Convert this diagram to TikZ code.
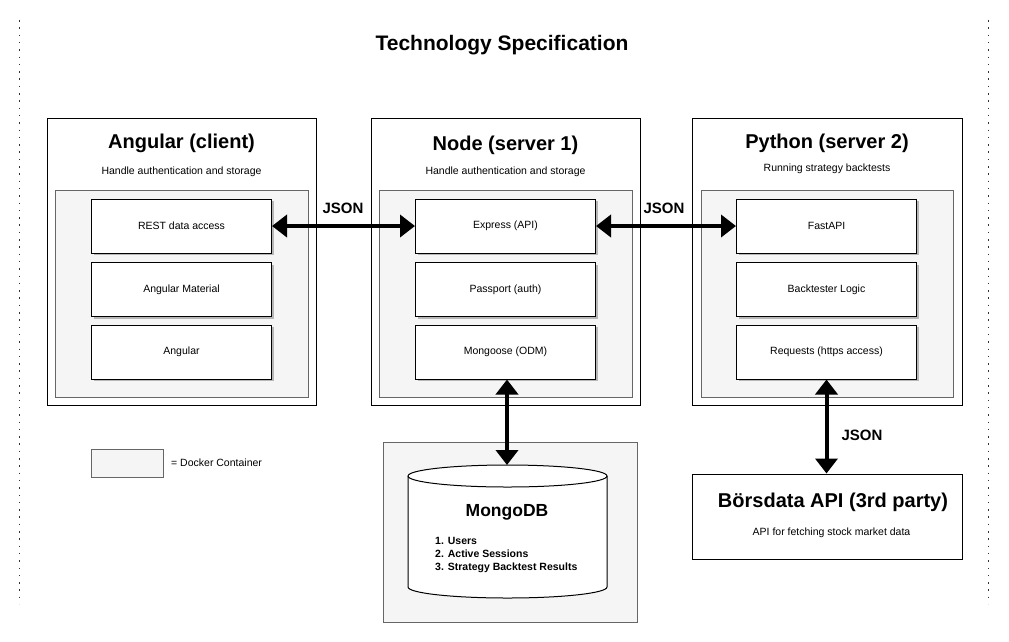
\documentclass[tikz,border=0pt]{standalone}
\usepackage{fontspec}
\setmainfont{Liberation Sans}
\usetikzlibrary{arrows.meta,shadows}
\tikzset{
    OB/.style ={rectangle, draw, line width=1pt, fill=white, inner sep=0pt, minimum width=269pt, minimum height=287pt},
    DC/.style ={rectangle, draw=black!60, line width=1pt, fill=black!4, inner sep=0pt},
    LB/.style ={rectangle, draw, line width=1pt, fill=white, inner sep=0pt, minimum width=180pt, minimum height=54pt,
                font=\fontsize{10.5}{12}\selectfont, drop shadow={shadow xshift=2pt, shadow yshift=-2pt, fill=black, opacity=0.25}},
    TT/.style ={font=\fontsize{20}{24}\selectfont\bfseries},
    ST/.style ={font=\fontsize{10.5}{12}\selectfont},
    JS/.style ={font=\fontsize{15}{18}\selectfont\bfseries},
    AR/.style ={{Triangle[length=15pt,width=22pt]}-{Triangle[length=15pt,width=22pt]}, line width=4pt},
    DL/.style ={line width=1.5pt, dash pattern=on 1.5pt off 5.8pt, black!80}}

\begin{document}
\begin{tikzpicture}[x=1pt,y=-1pt]
        \useasboundingbox (0,0) rectangle (1009,641);
        \draw[DL] (19.5,20) -- (19.5,604);
        \draw[DL] (988.5,20) -- (988.5,604);
        \node[font=\fontsize{21}{25}\selectfont\bfseries] (title) at (502,45) {Technology Specification};
        \node[OB] (ang) at (181.5,261.5) {};
        \node[OB] (nod) at (505.5,261.5) {};
        \node[OB, minimum width=270pt] (pyt) at (827,261.5) {};
        \node[TT] (angT) at (181.5,143) {Angular (client)};
        \node[ST] (angS) at (181.5,171.5) {Handle authentication and storage};
        \node[TT] (nodT) at (505.5,145) {Node (server 1)};
        \node[ST] (nodS) at (505.5,171.5) {Handle authentication and storage};
        \node[TT] (pytT) at (827,143) {Python (server 2)};
        \node[ST] (pytS) at (827,169) {Running strategy backtests};
        \node[DC, minimum width=253pt, minimum height=207pt] (angD) at (181.5,293.5) {};
        \node[DC, minimum width=253pt, minimum height=207pt] (nodD) at (505.5,293.5) {};
        \node[DC, minimum width=252pt, minimum height=207pt] (pytD) at (827,293.5) {};
        \node[LB] (rest) at (181.5,226) {REST data access};
        \node[LB] (mat) at (181.5,289.5) {Angular Material};
        \node[LB] (angl) at (181.5,352) {Angular};
        \node[LB] (expr) at (505.5,226) {Express (API)};
        \node[LB] (pass) at (505.5,289.5) {Passport (auth)};
        \node[LB] (mong) at (505.5,352) {Mongoose (ODM)};
        \node[LB] (fast) at (826.5,226) {FastAPI};
        \node[LB] (back) at (826.5,289.5) {Backtester Logic};
        \node[LB] (req) at (826.5,352) {Requests (https access)};
        \node[DC, minimum width=254pt, minimum height=180pt] (dbD) at (510,532) {};
        \draw[line width=1pt, fill=white] (408,476) -- (408,587) arc[start angle=180, end angle=0, x radius=99.5, y radius=11]
              -- (607,476) arc[start angle=0, end angle=-180, x radius=99.5, y radius=11] -- cycle;
        \draw[line width=1pt] (408,476) arc[start angle=180, end angle=0, x radius=99.5, y radius=11];
        \coordinate (db) at (507,465);
        \node[font=\fontsize{17.5}{21}\selectfont\bfseries] (dbT) at (507,512) {MongoDB};
        \node[anchor=west, align=left, inner sep=0pt, font=\fontsize{10.5}{13.3}\selectfont\bfseries] (dbL) at (435,555)
              {1. Users\\2. Active Sessions\\3. Strategy Backtest Results};
        \node[OB, minimum width=270pt, minimum height=85pt] (bors) at (827,516.5) {};
        \node[TT] (borsT) at (833,502) {Börsdata API (3rd party)};
        \node[ST] (borsS) at (831.5,532.5) {API for fetching stock market data};
        \node[DC, minimum width=72pt, minimum height=28pt] (leg) at (127,463) {};
        \node[ST, anchor=west, inner sep=0pt] (legT) at (171,463) {= Docker Container};
        \draw[AR] (rest) -- (expr);
        \draw[AR] (expr) -- (fast);
        \draw[AR] (mong.south -| db) -- (db);
        \draw[AR] (req.south) -- (req.south |- bors.north);
        \node[JS] (j1) at (343,208) {JSON};
        \node[JS] (j2) at (664,208) {JSON};
        \node[JS] (j3) at (862,435) {JSON};
    \end{tikzpicture}
\end{document}
